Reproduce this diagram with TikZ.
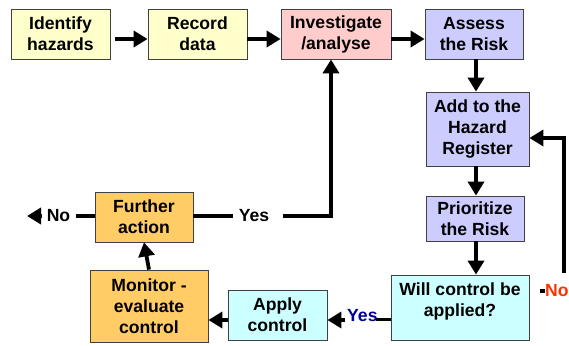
\documentclass[tikz,border=0pt]{standalone}
\usepackage{fontspec}
\setmainfont{Liberation Sans}
\usetikzlibrary{arrows.meta}
\definecolor{cYel}{HTML}{FFFFCC}
\definecolor{cPink}{HTML}{FFCCCC}
\definecolor{cLav}{HTML}{CCCCFF}
\definecolor{cCyan}{HTML}{CCFFFF}
\definecolor{cOrange}{HTML}{FFCC66}
\definecolor{cBlue}{HTML}{000099}
\definecolor{cRed}{HTML}{FF3300}
\begin{document}
\begin{tikzpicture}[x=1pt,y=-1pt,
  box/.style={draw=black!75, line width=0.8pt, inner sep=0pt, align=center,
    font=\fontsize{17.6}{21}\selectfont\bfseries},
  txt/.style={inner sep=0pt, align=center, font=\fontsize{17.6}{21}\selectfont\bfseries},
  lbl/.style={inner sep=0pt, font=\fontsize{17.6}{21}\selectfont\bfseries},
  conn/.style={line width=3.8pt},
  arr/.style={conn, -{Triangle[length=14pt,width=16pt]}}]
\useasboundingbox (0,0) rectangle (569,345);
% boxes
\node[box, fill=cYel, minimum width=99pt, minimum height=50pt] (ident) at (60.5,34) {Identify\\hazards};
\node[box, fill=cYel, minimum width=99pt, minimum height=50pt] (record) at (197.5,34) {Record\\data};
\node[box, fill=cPink, minimum width=110pt, minimum height=50pt] (inv) at (336,34) {Investigate\\/analyse};
\node[box, fill=cLav, minimum width=98pt, minimum height=50pt] (assess) at (474,34) {Assess\\the Risk};
\node[box, fill=cLav, minimum width=103pt, minimum height=74pt] (add) at (477.5,129) {Add to the\\Hazard\\Register};
\node[box, fill=cLav, minimum width=98pt, minimum height=45pt] (prio) at (475,218.5) {Prioritize\\the Risk};
\node[box, fill=cCyan, minimum width=138pt, minimum height=65pt] (will) at (460,307.5) {};
\node[txt] (willtxt) at (460,301) {Will control be\\applied?};
\node[box, fill=cCyan, minimum width=99pt, minimum height=50pt] (apply) at (277.5,315) {Apply\\control};
\node[box, fill=cOrange, minimum width=118pt, minimum height=72pt] (monitor) at (149,306) {Monitor -\\evaluate\\control};
\node[box, fill=cOrange, minimum width=98pt, minimum height=50pt] (further) at (144,217) {Further\\action};
% labels
\node[lbl] (NoL) at (58.5,216) {No};
\node[lbl] (YesT) at (254,216) {Yes};
\node[lbl, text=cBlue, anchor=base west] (YesB) at (347,321) {Yes};
\node[lbl, text=cRed, anchor=west] (NoR) at (545,291) {No};
% top row
\draw[arr, shorten <=5pt] ([yshift=-5pt]ident.east) -- ([yshift=-5pt]record.west);
\draw[arr] ([yshift=-5pt]record.east) -- ([yshift=-5pt]inv.west);
\draw[arr] ([yshift=-5pt]inv.east) -- ([yshift=-5pt]assess.west);
% right column
\draw[arr] (assess.south -| 476,0) -- (add.north -| 476,0);
\draw[arr] (add.south -| 476,0) -- (prio.north -| 476,0);
\draw[arr] (prio.south -| 476,0) -- (will.north -| 476,0);
% No loop on the right
\draw[conn] ([xshift=-5pt]NoR.west) -- (NoR.west);
\coordinate (nrb) at (564,273);
\draw[arr] (nrb) |- ([yshift=-9pt]add.east);
% Yes at bottom
\draw[conn] ([yshift=-12pt]will.west) -- ++(-15,0);
\coordinate (ybL) at (345,320);
\draw[arr] (ybL) -- (ybL -| apply.east);
% apply -> monitor
\draw[arr] ([yshift=-5pt]apply.west) -- ([yshift=-5pt]apply.west -| monitor.east);
% monitor -> further
\draw[arr] (monitor.north) -- (further.south);
% further -> No
\draw[conn] (further.west |- NoL) -- ([xshift=6pt]NoL.east);
\coordinate (nlL) at (42,216);
\draw[arr] (nlL) -- (27,216);
% further -> Yes -> investigate
\draw[conn] (further.east |- YesT) -- ([xshift=-6pt]YesT.west);
\coordinate (ytR) at (283,216);
\draw[arr] (ytR) -| ([xshift=-5pt]inv.south);
\end{tikzpicture}
\end{document}
